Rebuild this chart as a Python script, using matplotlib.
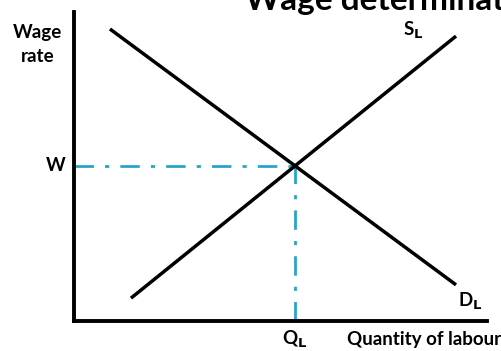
import matplotlib.pyplot as plt

plt.rcParams['font.family'] = ['Lato', 'DejaVu Sans']

# Curves in data units (quantity of labour 0-100, wage rate 0-100)
demand_x = [8.7, 92.5]
demand_y = [94.5, 11.7]
supply_x = [13.8, 92.5]
supply_y = [7.4, 92.2]
eq_q = 53.5
eq_w = 50.2

fig = plt.figure(figsize=(5.02, 3.51), dpi=100)
ax = fig.add_axes([74 / 502, 30 / 351, 413 / 502, 309 / 351])
ax.set_xlim(0, 100)
ax.set_ylim(0, 100)

teal = '#29a3cc'
ax.plot([0, eq_q], [eq_w, eq_w], color=teal, lw=2, ls=(0, (7, 4, 1.5, 4)), clip_on=False)
ax.plot([eq_q, eq_q], [0, eq_w], color=teal, lw=2, ls=(0, (7, 4, 1.5, 4)), clip_on=False)
ax.plot(demand_x, demand_y, color='black', lw=2.5, solid_capstyle='butt')
ax.plot(supply_x, supply_y, color='black', lw=2.5, solid_capstyle='butt')

for s in ['top', 'right']:
    ax.spines[s].set_visible(False)
for s in ['left', 'bottom']:
    ax.spines[s].set_linewidth(2.8)
ax.set_xticks([])
ax.set_yticks([])

fs = 13.5
ax.text(-8.8, 91.6, 'Wage', ha='center', va='baseline', fontsize=fs, fontweight='bold')
ax.text(-8.8, 83.8, 'rate', ha='center', va='baseline', fontsize=fs, fontweight='bold')
ax.text(-2, eq_w, 'W', ha='right', va='center', fontsize=fs, fontweight='bold')
ax.text(eq_q, -6.1, r'Q$_\mathbf{L}$', ha='center', va='center', fontsize=fs, fontweight='bold')
ax.text(66, -6.1, 'Quantity of labour', ha='left', va='center', fontsize=fs, fontweight='bold')
ax.text(82.1, 94.2, r'S$_\mathbf{L}$', ha='center', va='center', fontsize=fs, fontweight='bold')
ax.text(95.9, 6.5, r'D$_\mathbf{L}$', ha='center', va='center', fontsize=fs, fontweight='bold')

fig.text(245 / 502, (351 - 10) / 351, 'Wage determination', ha='left', va='baseline',
         fontsize=24, fontweight='bold')

fig.savefig('out.png', dpi=100)
